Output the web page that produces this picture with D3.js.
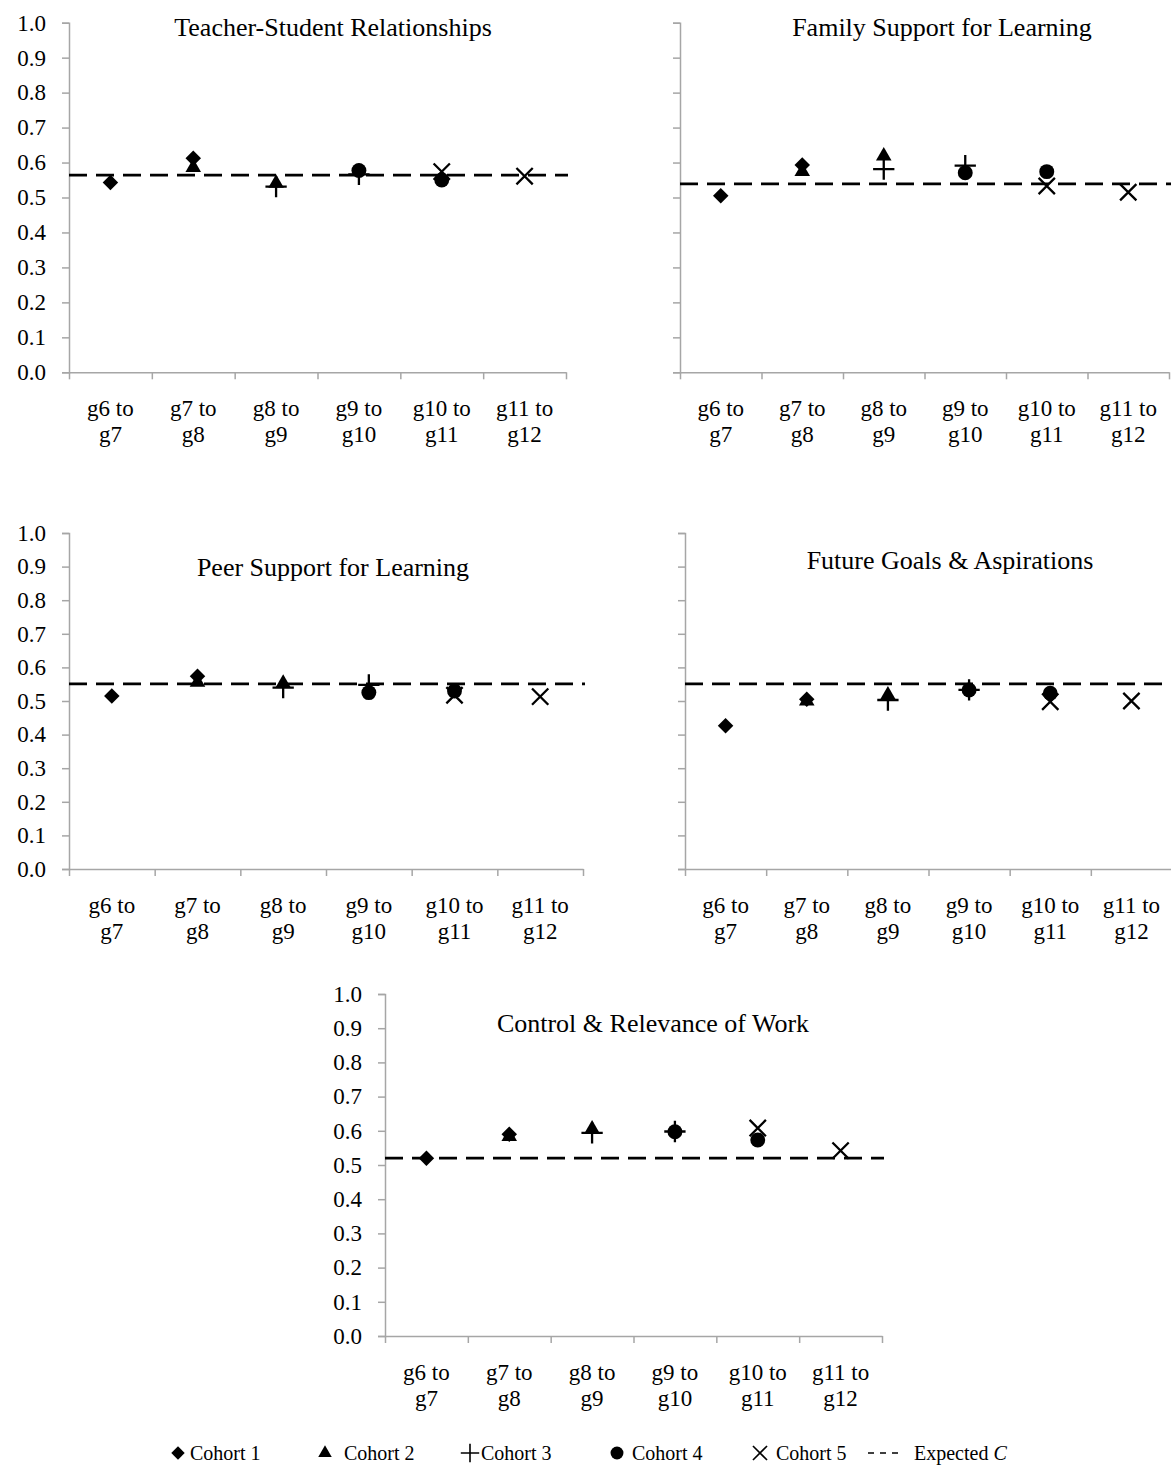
<!DOCTYPE html>
<html>
<head>
<meta charset="utf-8">
<title>Stability by cohort</title>
<script src="https://d3js.org/d3.v7.min.js"></script>
<style>
body { margin: 0; background: #fff; }
svg text { font-family: "Liberation Serif", "Times New Roman", serif; fill: #000; }
.axis path, .axis line { stroke: #a6a6a6; stroke-width: 1.5; }
</style>
</head>
<body>
<svg id="chart" width="1171" height="1481"></svg>
<script>
// x categories (two lines each)
var transitions = [["g6 to", "g7"], ["g7 to", "g8"], ["g8 to", "g9"], ["g9 to", "g10"], ["g10 to", "g11"], ["g11 to", "g12"]];
var cohorts = ["Cohort 1", "Cohort 2", "Cohort 3", "Cohort 4", "Cohort 5"];
var yTicks = [0, 0.1, 0.2, 0.3, 0.4, 0.5, 0.6, 0.7, 0.8, 0.9, 1.0];

var titles = ["Teacher-Student Relationships", "Family Support for Learning", "Peer Support for Learning",
  "Future Goals & Aspirations", "Control & Relevance of Work"];
var expectedC = [0.564, 0.539, 0.551, 0.551, 0.52];

// one row per cohort, one value per transition (null = no data)
var teacherStudent = [
  [0.543, 0.612, null, null, null, null],
  [null, 0.586, 0.541, null, null, null],
  [null, null, 0.531, 0.566, null, null],
  [null, null, null, 0.577, 0.550, null],
  [null, null, null, null, 0.574, 0.561]
];
var familySupport = [
  [0.505, 0.593, null, null, null, null],
  [null, 0.574, 0.619, null, null, null],
  [null, null, 0.581, 0.591, null, null],
  [null, null, null, 0.571, 0.574, null],
  [null, null, null, null, 0.533, 0.515]
];
var peerSupport = [
  [0.515, 0.574, null, null, null, null],
  [null, 0.556, 0.553, null, null, null],
  [null, null, 0.540, 0.548, null, null],
  [null, null, null, 0.525, 0.530, null],
  [null, null, null, null, 0.517, 0.513]
];
var futureGoals = [
  [0.426, 0.505, null, null, null, null],
  [null, 0.500, 0.518, null, null, null],
  [null, null, 0.503, 0.533, null, null],
  [null, null, null, 0.533, 0.523, null],
  [null, null, null, null, 0.498, 0.500]
];
var controlRelevance = [
  [0.520, 0.590, null, null, null, null],
  [null, 0.583, 0.605, null, null, null],
  [null, null, 0.594, 0.598, null, null],
  [null, null, null, 0.597, 0.573, null],
  [null, null, null, null, 0.608, 0.542]
];

var panelData = [teacherStudent, familySupport, peerSupport, futureGoals, controlRelevance];

// layout of each small chart
var layout = [
  {x0: 69, x1: 566, yTop: 22.7, yBot: 372.3, labels: true, titleX: 333, titleY: 36},
  {x0: 680, x1: 1169, yTop: 22.7, yBot: 372.3, labels: false, titleX: 942, titleY: 36},
  {x0: 69, x1: 583, yTop: 533, yBot: 869, labels: true, titleX: 333, titleY: 576},
  {x0: 685, x1: 1172, yTop: 533, yBot: 869, labels: false, titleX: 950, titleY: 569},
  {x0: 385, x1: 882, yTop: 994, yBot: 1336, labels: true, titleX: 653, titleY: 1032}
];

var tickFont = 23, titleFont = 26, legendFont = 20;
var svg = d3.select("#chart");

var markers = [
  {type: d3.symbolSquare, size: 120, rotate: 45, fill: true},
  {type: d3.symbolTriangle, size: 105, rotate: 0, fill: true},
  {type: d3.symbolPlus, size: 150, rotate: 0, fill: false},
  {type: d3.symbolCircle, size: 175, rotate: 0, fill: true},
  {type: d3.symbolTimes, size: 175, rotate: 0, fill: false}
];

function drawMarker(g, m, x, y) {
  g.append("path")
    .attr("d", d3.symbol().type(m.type).size(m.size)())
    .attr("transform", "translate(" + x + "," + y + ") rotate(" + m.rotate + ")")
    .attr("fill", m.fill ? "#000" : "none")
    .attr("stroke", m.fill ? "none" : "#000")
    .attr("stroke-width", m.fill ? 0 : m.sw || 2.3);
}

layout.forEach(function(L, p) {
  var g = svg.append("g");
  var y = d3.scaleLinear().domain([0, 1]).range([L.yBot, L.yTop]);
  var xb = d3.scaleBand().domain(d3.range(transitions.length)).range([L.x0, L.x1]);
  var xl = d3.scaleLinear().domain([0, transitions.length]).range([L.x0, L.x1]);

  // y axis
  var ya = g.append("g").attr("class", "axis")
    .attr("transform", "translate(" + L.x0 + ",0)")
    .call(d3.axisLeft(y).tickValues(yTicks).tickSize(7).tickSizeOuter(7)
      .tickFormat(L.labels ? d3.format(".1f") : ""));
  ya.selectAll("text").attr("font-size", tickFont).attr("x", -23).attr("fill", "#000")
    .style("font-family", "Liberation Serif");

  // x axis, ticks between categories
  g.append("g").attr("class", "axis")
    .attr("transform", "translate(0," + L.yBot + ")")
    .call(d3.axisBottom(xl).tickValues(d3.range(transitions.length + 1)).tickSize(7).tickSizeOuter(0).tickFormat(""));

  transitions.forEach(function(t, i) {
    var tx = g.append("text")
      .attr("x", xb(i) + xb.bandwidth() / 2)
      .attr("y", L.yBot + 44)
      .attr("text-anchor", "middle")
      .attr("font-size", tickFont);
    tx.append("tspan").text(t[0]);
    tx.append("tspan").attr("x", xb(i) + xb.bandwidth() / 2).attr("dy", 26).text(t[1]);
  });

  // title
  g.append("text")
    .attr("x", L.titleX).attr("y", L.titleY)
    .attr("text-anchor", "middle")
    .attr("font-size", titleFont)
    .text(titles[p]);

  // expected C
  g.append("line")
    .attr("x1", L.x0).attr("x2", L.x1 + 2)
    .attr("y1", y(expectedC[p])).attr("y2", y(expectedC[p]))
    .attr("stroke", "#000").attr("stroke-width", 2.8)
    .attr("stroke-dasharray", "18,9");

  // cohorts
  panelData[p].forEach(function(row, c) {
    row.forEach(function(v, i) {
      if (v == null) return;
      drawMarker(g, markers[c], xb(i) + xb.bandwidth() / 2, y(v));
    });
  });
});

// legend
var legendY = 1453;
var legendX = [178, 325, 470, 617, 760];
var legendTextX = [190, 344, 481, 632, 776];
var lg = svg.append("g");
cohorts.forEach(function(name, c) {
  var m = Object.assign({}, markers[c], {size: markers[c].size * 0.75, sw: 1.6});
  drawMarker(lg, m, legendX[c], legendY);
  lg.append("text")
    .attr("x", legendTextX[c]).attr("y", legendY + 7)
    .attr("font-size", legendFont)
    .text(name);
});
lg.append("line")
  .attr("x1", 868).attr("x2", 900)
  .attr("y1", legendY).attr("y2", legendY)
  .attr("stroke", "#000").attr("stroke-width", 1.5)
  .attr("stroke-dasharray", "6,6");
var et = lg.append("text")
  .attr("x", 914).attr("y", legendY + 7)
  .attr("font-size", legendFont);
et.append("tspan").text("Expected ");
et.append("tspan").attr("font-style", "italic").text("C");
</script>
</body>
</html>
